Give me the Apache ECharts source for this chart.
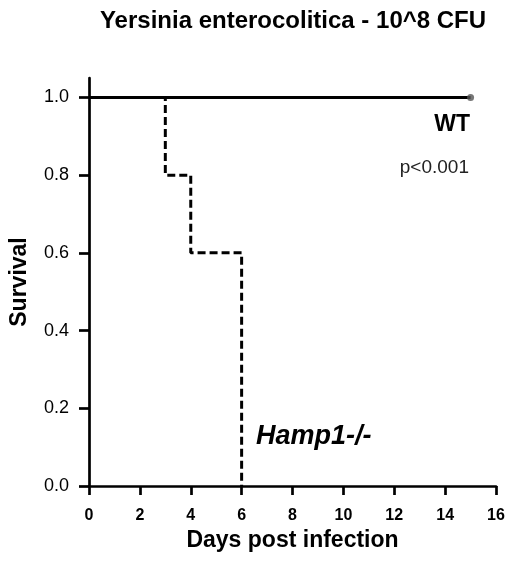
<!DOCTYPE html>
<html><head><meta charset="utf-8">
<script src="https://cdn.jsdelivr.net/npm/echarts@6/dist/echarts.min.js"></script>
<style>html,body{margin:0;padding:0;background:#fff}#c{width:508px;height:562px}</style>
</head><body><div id="c"></div>
<script>
const wtDays = [0, 15];
const wtSurvival = [1.0, 1.0];
const hampDays = [0, 3, 4, 6];
const hampSurvival = [1.0, 0.8, 0.6, 0.0];
const yTicks = [0, 0.2, 0.4, 0.6, 0.8, 1.0];
const xTicks = [0, 2, 4, 6, 8, 10, 12, 14, 16];
const titleText = 'Yersinia enterocolitica - 10^8 CFU';
const xName = 'Days post infection';
const yName = 'Survival';

const F = 'Liberation Sans, Arial, Helvetica, sans-serif';
const chart = echarts.init(document.getElementById('c'), null, {renderer: 'canvas'});
chart.setOption({
  animation: false,
  backgroundColor: '#fff',
  title: {
    text: titleText, left: 288, top: 4, textAlign: 'center',
    textStyle: {fontFamily: F, fontSize: 24, fontWeight: 'bold', color: '#000'}
  },
  grid: {left: 88, right: 12, top: 78, bottom: 76, containLabel: false},
  xAxis: {
    type: 'value', min: 0, max: 16, interval: 2,
    name: xName, nameLocation: 'middle', nameGap: 43,
    nameTextStyle: {fontFamily: F, fontSize: 23, fontWeight: 'bold', color: '#000'},
    axisLine: {show: true, onZero: false, lineStyle: {color: '#000', width: 2.7}},
    axisTick: {show: true, length: 9, lineStyle: {color: '#000', width: 2.7}, customValues: xTicks},
    axisLabel: {fontFamily: F, fontSize: 16, fontWeight: 'bold', color: '#000', margin: 22, customValues: xTicks},
    splitLine: {show: false}
  },
  yAxis: {
    type: 'value', min: 0, max: 1.05,
    name: yName, nameLocation: 'middle', nameGap: 58, nameRotate: 90,
    nameTextStyle: {fontFamily: F, fontSize: 23, fontWeight: 'bold', color: '#000'},
    axisLine: {show: true, onZero: false, lineStyle: {color: '#000', width: 2.7}},
    axisTick: {show: true, length: 10, lineStyle: {color: '#000', width: 2.7}, customValues: yTicks},
    axisLabel: {fontFamily: F, fontSize: 18, color: '#000', margin: 20, customValues: yTicks,
      formatter: v => v.toFixed(1)},
    splitLine: {show: false}
  },
  series: [
    {
      name: 'Hamp1-/-', type: 'line', step: 'end',
      data: hampDays.map((d, i) => [d, hampSurvival[i]]),
      showSymbol: false, symbol: 'none',
      lineStyle: {color: '#000', width: 3, type: [8, 4]},
      z: 2
    },
    {
      name: 'WT', type: 'line',
      data: wtDays.map((d, i) => [d, wtSurvival[i]]),
      showSymbol: false, symbol: 'none',
      lineStyle: {color: '#000', width: 3},
      z: 3
    },
    {
      name: 'WTend', type: 'scatter',
      data: [[wtDays[wtDays.length - 1], wtSurvival[wtSurvival.length - 1]]],
      symbolSize: 7, itemStyle: {color: '#555'}, z: 4
    }
  ],
  graphic: [
    {type: 'text', x: 470, y: 113, style: {text: 'WT', font: 'bold 23px ' + F, fill: '#000', align: 'right', verticalAlign: 'top'}},
    {type: 'text', x: 469, y: 158, style: {text: 'p<0.001', font: '19px ' + F, fill: '#222', align: 'right', verticalAlign: 'top'}},
    {type: 'text', x: 256, y: 423, style: {text: 'Hamp1-/-', font: 'italic bold 27px ' + F, fill: '#000', align: 'left', verticalAlign: 'top'}}
  ]
});
</script></body></html>
